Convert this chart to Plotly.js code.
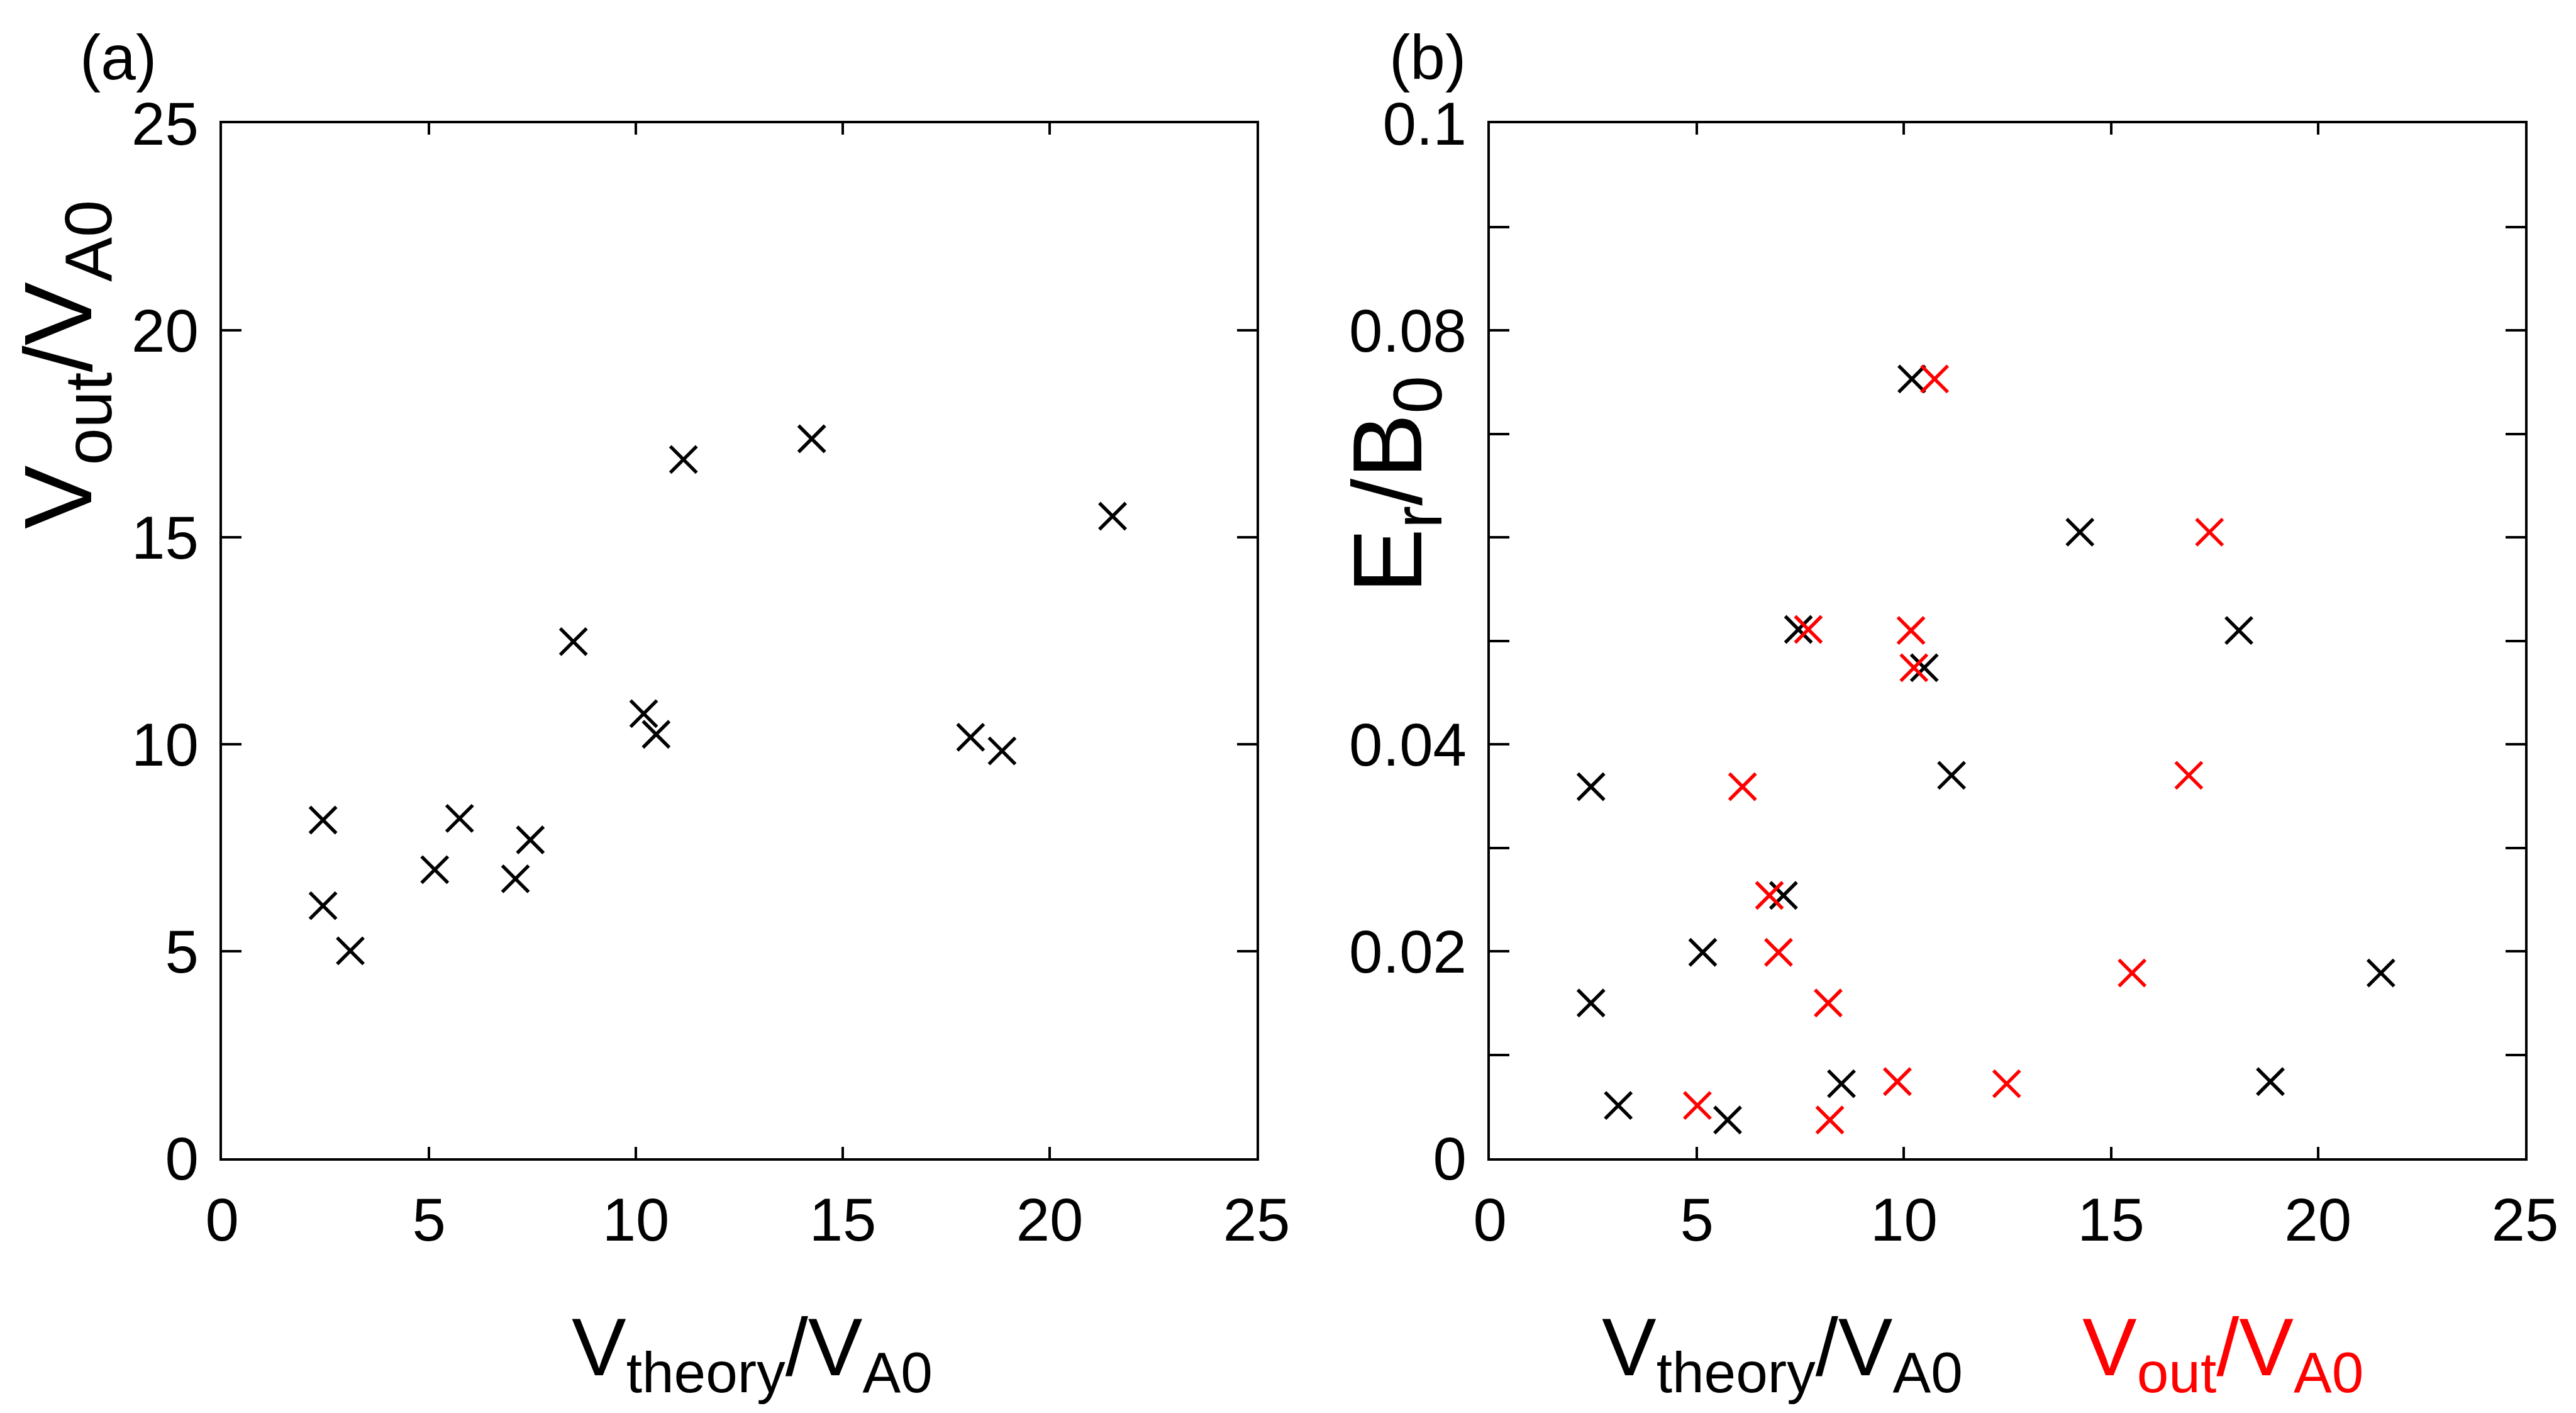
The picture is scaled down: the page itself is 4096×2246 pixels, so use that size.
<!DOCTYPE html>
<html>
<head>
<meta charset="utf-8">
<script src="https://cdn.plot.ly/plotly-3.0.1.min.js"></script>
<style>html,body{margin:0;padding:0;background:#fff;} #chart{width:4096px;height:2246px;}</style>
</head>
<body>
<div id="chart"></div>
<script>
// Data
const vTheory = [2.44, 2.44, 3.10, 5.14, 5.74, 7.09, 7.45, 8.49, 10.19, 10.49, 11.15, 14.25, 18.09, 18.85, 21.52];
const vOut    = [8.17, 6.10, 5.01, 6.97, 8.21, 6.75, 7.69, 12.48, 10.74, 10.24, 16.88, 17.38, 10.17, 9.84, 15.51];
const erB0    = [0.0150, 0.0359, 0.0051, 0.0199, 0.0037, 0.0254, 0.0511, 0.0072, 0.0753, 0.0474, 0.0370, 0.0605, 0.0510, 0.0074, 0.0179];

const xTicks = [0, 5, 10, 15, 20, 25];
const yTicksA = [0, 5, 10, 15, 20, 25];
const yTicksB = [0, 0.02, 0.04, 0.08, 0.1];
const yTickTextB = ['0', '0.02', '0.04', '0.08', '0.1'];
const yMinorStepB = 0.01;

const FONT = 'Liberation Sans, Arial, Helvetica, sans-serif';
const markerBlack = {symbol: 'x-thin', size: 42, line: {color: '#000000', width: 5.5}, color: '#000000'};
const markerRed = {symbol: 'x-thin', size: 42, line: {color: '#ff0000', width: 5.5}, color: '#ff0000'};

const traces = [
  {x: vTheory, y: vOut, xaxis: 'x', yaxis: 'y', type: 'scatter', mode: 'markers', marker: markerBlack, name: 'a'},
  {x: vTheory, y: erB0, xaxis: 'x2', yaxis: 'y2', type: 'scatter', mode: 'markers', marker: markerBlack, name: 'b theory'},
  {x: vOut, y: erB0, xaxis: 'x2', yaxis: 'y2', type: 'scatter', mode: 'markers', marker: markerRed, name: 'b out'}
];

const tickFont = {family: FONT, size: 96, color: '#000000'};
const axisCommon = {
  showgrid: false, zeroline: false, showline: true, linecolor: '#000000', linewidth: 4,
  mirror: 'ticks', ticks: 'inside', tickcolor: '#000000', tickwidth: 4,
  tickfont: tickFont, tickmode: 'array', fixedrange: true
};
const yDom = [0.1803, 0.9127];

const layout = {
  width: 4096, height: 2246,
  margin: {l: 0, r: 0, t: 0, b: 0, pad: 0},
  paper_bgcolor: '#ffffff', plot_bgcolor: '#ffffff',
  showlegend: false,
  font: {family: FONT, color: '#000000'},
  xaxis: Object.assign({}, axisCommon, {domain: [0.0862, 0.4878], range: [0, 25], tickvals: xTicks, ticktext: xTicks.map(String), ticklen: 18, ticklabelstandoff: 12, anchor: 'y'}),
  yaxis: Object.assign({}, axisCommon, {domain: yDom, range: [0, 25], tickvals: yTicksA, ticktext: yTicksA.map(String), ticklen: 31, ticklabelstandoff: 14, anchor: 'x'}),
  xaxis2: Object.assign({}, axisCommon, {domain: [0.5784, 0.9802], range: [0, 25], tickvals: xTicks, ticktext: xTicks.map(String), ticklen: 18, ticklabelstandoff: 12, anchor: 'y2'}),
  yaxis2: Object.assign({}, axisCommon, {domain: yDom, range: [0, 0.1], tickvals: yTicksB, ticktext: yTickTextB, ticklen: 31, ticklabelstandoff: 14, anchor: 'x2',
    minor: {dtick: yMinorStepB, tick0: 0, ticks: 'inside', ticklen: 31, tickwidth: 4, tickcolor: '#000000', showgrid: false}}),
  annotations: [
    {text: '(a)', xref: 'paper', yref: 'paper', x: 0.0305, y: 0.9595, xanchor: 'left', yanchor: 'middle', showarrow: false, font: {family: FONT, size: 100, color: '#000000'}},
    {text: '(b)', xref: 'paper', yref: 'paper', x: 0.5389, y: 0.9595, xanchor: 'left', yanchor: 'middle', showarrow: false, font: {family: FONT, size: 100, color: '#000000'}},
    {text: 'V<sub>out</sub>/V<sub>A0</sub>', xref: 'paper', yref: 'paper', x: 0.0254, y: 0.7418, xanchor: 'center', yanchor: 'middle', textangle: -90, showarrow: false, font: {family: FONT, size: 152, color: '#000000'}},
    {text: 'E<sub>r</sub>/B<sub>0</sub>', xref: 'paper', yref: 'paper', x: 0.5415, y: 0.657, xanchor: 'center', yanchor: 'middle', textangle: -90, showarrow: false, font: {family: FONT, size: 155, color: '#000000'}},
    {text: 'V<sub>theory</sub>/V<sub>A0</sub>', xref: 'paper', yref: 'paper', x: 0.292, y: 1 - 2150/2246, xanchor: 'center', yanchor: 'middle', showarrow: false, font: {family: FONT, size: 130, color: '#000000'}},
    {text: 'V<sub>theory</sub>/V<sub>A0</sub>', xref: 'paper', yref: 'paper', x: 2834/4096, y: 1 - 2150/2246, xanchor: 'center', yanchor: 'middle', showarrow: false, font: {family: FONT, size: 130, color: '#000000'}},
    {text: 'V<sub>out</sub>/V<sub>A0</sub>', xref: 'paper', yref: 'paper', x: 3534/4096, y: 1 - 2150/2246, xanchor: 'center', yanchor: 'middle', showarrow: false, font: {family: FONT, size: 130, color: '#ff0000'}}
  ]
};

Plotly.newPlot('chart', traces, layout, {staticPlot: true, displayModeBar: false});
</script>
</body>
</html>
